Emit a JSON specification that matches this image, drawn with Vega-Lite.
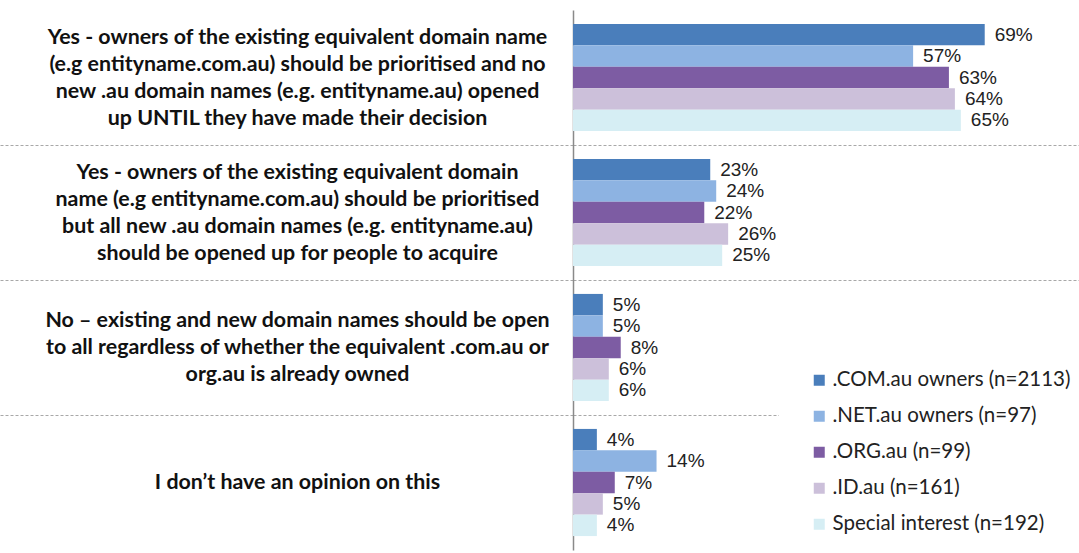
{
  "$schema": "https://vega.github.io/schema/vega-lite/v6.json",
  "width": 506,
  "height": 540,
  "autosize": {"type": "none"},
  "padding": {"left": 573, "top": 10, "right": 0, "bottom": 3},
  "background": "white",
  "config": {"view": {"stroke": null}},
  "data": {
    "values": [
      {"question": "Yes - owners of the existing equivalent domain name|(e.g entityname.com.au) should be prioritised and no|new .au domain names (e.g. entityname.au) opened|up UNTIL they have made their decision", "group": ".COM.au owners (n=2113)", "value": 0.69},
      {"question": "Yes - owners of the existing equivalent domain name|(e.g entityname.com.au) should be prioritised and no|new .au domain names (e.g. entityname.au) opened|up UNTIL they have made their decision", "group": ".NET.au owners (n=97)", "value": 0.57},
      {"question": "Yes - owners of the existing equivalent domain name|(e.g entityname.com.au) should be prioritised and no|new .au domain names (e.g. entityname.au) opened|up UNTIL they have made their decision", "group": ".ORG.au (n=99)", "value": 0.63},
      {"question": "Yes - owners of the existing equivalent domain name|(e.g entityname.com.au) should be prioritised and no|new .au domain names (e.g. entityname.au) opened|up UNTIL they have made their decision", "group": ".ID.au (n=161)", "value": 0.64},
      {"question": "Yes - owners of the existing equivalent domain name|(e.g entityname.com.au) should be prioritised and no|new .au domain names (e.g. entityname.au) opened|up UNTIL they have made their decision", "group": "Special interest (n=192)", "value": 0.65},
      {"question": "Yes - owners of the existing equivalent domain|name (e.g entityname.com.au) should be prioritised|but all new .au domain names  (e.g. entityname.au)|should be opened up for people to acquire", "group": ".COM.au owners (n=2113)", "value": 0.23},
      {"question": "Yes - owners of the existing equivalent domain|name (e.g entityname.com.au) should be prioritised|but all new .au domain names  (e.g. entityname.au)|should be opened up for people to acquire", "group": ".NET.au owners (n=97)", "value": 0.24},
      {"question": "Yes - owners of the existing equivalent domain|name (e.g entityname.com.au) should be prioritised|but all new .au domain names  (e.g. entityname.au)|should be opened up for people to acquire", "group": ".ORG.au (n=99)", "value": 0.22},
      {"question": "Yes - owners of the existing equivalent domain|name (e.g entityname.com.au) should be prioritised|but all new .au domain names  (e.g. entityname.au)|should be opened up for people to acquire", "group": ".ID.au (n=161)", "value": 0.26},
      {"question": "Yes - owners of the existing equivalent domain|name (e.g entityname.com.au) should be prioritised|but all new .au domain names  (e.g. entityname.au)|should be opened up for people to acquire", "group": "Special interest (n=192)", "value": 0.25},
      {"question": "No – existing and new domain names should be open|to all regardless of whether the equivalent .com.au or|org.au is already owned", "group": ".COM.au owners (n=2113)", "value": 0.05},
      {"question": "No – existing and new domain names should be open|to all regardless of whether the equivalent .com.au or|org.au is already owned", "group": ".NET.au owners (n=97)", "value": 0.05},
      {"question": "No – existing and new domain names should be open|to all regardless of whether the equivalent .com.au or|org.au is already owned", "group": ".ORG.au (n=99)", "value": 0.08},
      {"question": "No – existing and new domain names should be open|to all regardless of whether the equivalent .com.au or|org.au is already owned", "group": ".ID.au (n=161)", "value": 0.06},
      {"question": "No – existing and new domain names should be open|to all regardless of whether the equivalent .com.au or|org.au is already owned", "group": "Special interest (n=192)", "value": 0.06},
      {"question": "I don’t have an opinion on this", "group": ".COM.au owners (n=2113)", "value": 0.04},
      {"question": "I don’t have an opinion on this", "group": ".NET.au owners (n=97)", "value": 0.14},
      {"question": "I don’t have an opinion on this", "group": ".ORG.au (n=99)", "value": 0.07},
      {"question": "I don’t have an opinion on this", "group": ".ID.au (n=161)", "value": 0.05},
      {"question": "I don’t have an opinion on this", "group": "Special interest (n=192)", "value": 0.04}
    ]
  },
  "encoding": {
    "y": {
      "field": "question",
      "type": "nominal",
      "sort": null,
      "scale": {"paddingInner": 0, "paddingOuter": 0},
      "axis": {
        "title": null,
        "labelExpr": "split(datum.label, '|')",
        "labelFont": "Lato",
        "labelFontWeight": "bold",
        "labelFontSize": 21.4,
        "labelLineHeight": 27,
        "labelColor": "#111111",
        "labelAlign": "center",
        "labelBaseline": "middle",
        "labelPadding": -297,
        "labelLimit": 0,
        "labelOffset": {"expr": "-(length(split(datum.label, '|')) - 1) * 13.5"},
        "domainColor": "#8a8a8a",
        "domainWidth": 1.5,
        "ticks": true,
        "tickBand": "extent",
        "tickSize": 573,
        "tickColor": "#a8a8a8",
        "tickDash": [3, 2],
        "tickWidth": 1,
        "tickOpacity": {"condition": {"test": "datum.index < 0 || datum.value === 'I don’t have an opinion on this'", "value": 0}, "value": 1},
        "grid": true,
        "gridColor": "#a8a8a8",
        "gridDash": [3, 2],
        "gridWidth": 1,
        "gridOpacity": {"condition": {"test": "datum.index < 0 || datum.value === 'I don’t have an opinion on this'", "value": 0}, "value": 1}
      }
    },
    "x": {
      "field": "value",
      "type": "quantitative",
      "scale": {"domain": [0, 0.848], "nice": false},
      "axis": null
    },
    "yOffset": {
      "field": "group",
      "type": "nominal",
      "sort": null,
      "scale": {"paddingInner": 0, "paddingOuter": 0.65}
    }
  },
  "layer": [
    {
      "mark": {"type": "bar"},
      "encoding": {
        "color": {
          "field": "group",
          "type": "nominal",
          "sort": null,
          "scale": {
            "domain": [".COM.au owners (n=2113)", ".NET.au owners (n=97)", ".ORG.au (n=99)", ".ID.au (n=161)", "Special interest (n=192)"],
            "range": ["#4a7ebb", "#8db3e2", "#7d5ca3", "#ccc0da", "#d6eef4"]
          },
          "stroke": {
            "condition": {"test": "datum.group === 'Special interest (n=192)'", "value": "#a9d4df"},
            "value": null
          },
          "legend": {
            "title": null,
            "orient": "none",
            "legendX": 206,
            "legendY": 330,
            "padding": 30,
            "fillColor": "white",
            "strokeColor": null,
            "symbolType": "square",
            "symbolSize": 121,
            "symbolStrokeWidth": 0,
            "labelFont": "Lato",
            "labelFontSize": 20.5,
            "labelLimit": 0,
            "labelColor": "#222222",
            "labelOffset": 3,
            "rowPadding": 15
          }
        }
      }
    },
    {
      "mark": {"type": "text", "align": "left", "baseline": "middle", "dx": 10, "font": "Liberation Sans", "fontSize": 19, "color": "#222222"},
      "encoding": {
        "text": {"field": "value", "type": "quantitative", "format": ".0%"}
      }
    }
  ]
}
